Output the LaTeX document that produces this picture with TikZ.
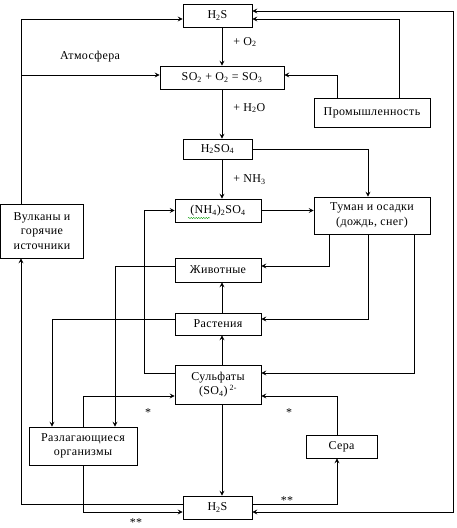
\documentclass[tikz,border=0pt]{standalone}
\usepackage{fontspec}
\setmainfont[LetterSpace=3]{Liberation Serif}
\usetikzlibrary{positioning,arrows.meta,decorations.pathmorphing}

\begin{document}
\begin{tikzpicture}[x=1pt,y=-1pt,line width=0.7pt,
    >={Stealth[length=5pt,width=5pt,inset=2pt]},
    squarenode/.style = {rectangle, draw=black, inner sep=0pt, align=center,
      font=\fontsize{12}{14.5}\selectfont},
    labelnode/.style = {inner sep=0pt, font=\fontsize{12}{14.5}\selectfont}]
     \useasboundingbox (0,0) rectangle (457,528);
     \coordinate (mid) at (222,0);

     \node[squarenode, minimum width=69pt, minimum height=23pt] (h2sup) at (217.5,15.5) {H\textsubscript{2}S};
     \node[squarenode, minimum width=124pt, minimum height=23pt] (so3) at (222,77.5) {SO\textsubscript{2} + O\textsubscript{2} = SO\textsubscript{3}};
     \node[squarenode, minimum width=116pt, minimum height=29pt] (prom) at (372,112.5) {Промышленность};
     \node[squarenode, minimum width=69pt, minimum height=20pt] (h2so4) at (217.5,149) {H\textsubscript{2}SO\textsubscript{4}};
     \node[squarenode, minimum width=86pt, minimum height=23pt] (nh4) at (218,210.5) {(NH\textsubscript{4})\textsubscript{2}SO\textsubscript{4}};
     \node[squarenode, minimum width=116pt, minimum height=37pt] (tuman) at (372,215.5) {Туман и осадки\\(дождь, снег)};
     \node[squarenode, minimum width=83pt, minimum height=54pt] (vulk) at (42,231) {Вулканы и\\горячие\\источники};
     \node[squarenode, minimum width=86pt, minimum height=24pt] (zhiv) at (218,270) {Животные};
     \node[squarenode, minimum width=86pt, minimum height=22pt] (rast) at (218,324) {Растения};
     \node[squarenode, minimum width=86pt, minimum height=39pt] (sulf) at (218,384.5) {Сульфаты\\(SO\textsubscript{4})\,\textsuperscript{2-}};
     \node[squarenode, minimum width=108pt, minimum height=38pt] (razl) at (83,446) {Разлагающиеся\\организмы};
     \node[squarenode, minimum width=71pt, minimum height=23pt] (sera) at (341.5,446.5) {Сера};
     \node[squarenode, minimum width=69pt, minimum height=23pt] (h2sdown) at (217.5,507.5) {H\textsubscript{2}S};

     \node[labelnode, anchor=west] (o2) at (233,42) {+ O\textsubscript{2}};
     \node[labelnode, anchor=west] (h2o) at (233,108) {+ H\textsubscript{2}O};
     \node[labelnode, anchor=west] (nh3) at (233,180) {+ NH\textsubscript{3}};
     \node[labelnode] (atm) at (90,57) {Атмосфера};
     \node[labelnode, anchor=north] (star1) at (148,408) {*};
     \node[labelnode, anchor=north] (star2) at (289,408) {*};
     \node[labelnode, anchor=north] (star3) at (287,496) {**};
     \node[labelnode, anchor=north] (star4) at (136,518) {**};

     \draw[green!60!black, line width=0.4pt, decorate,
       decoration={snake, amplitude=0.6pt, segment length=2.5pt}] (188,218) -- (210,218);

     \draw[->] (h2sup.south -| mid) -- (so3.north -| mid);
     \draw[->] (so3.south -| mid) -- (h2so4.north -| mid);
     \draw[->] (h2so4.south -| mid) -- (nh4.north -| mid);
     \draw[->] (nh4.east) -- (nh4.east -| tuman.west);
     \draw[->] (h2so4.east) -| ([xshift=-4pt]tuman.north);
     \draw[->] ([xshift=-43pt]tuman.south) |- ([yshift=4pt]zhiv.east);
     \draw[->] ([xshift=-4pt]tuman.south) |- ([yshift=5pt]rast.east);
     \draw[->] ([xshift=42pt]tuman.south) |- ([yshift=11.5pt]sulf.east);
     \draw[->] ([yshift=11.5pt]sulf.west) -- ++(-30pt,0) |- (nh4.west);
     \draw[->] ([yshift=5pt]rast.west) -| ([xshift=-31pt]razl.north);
     \draw[->] ([yshift=4pt]zhiv.west) -| ([xshift=32pt]razl.north);
     \draw[->] (razl.north) |- ([yshift=-11.5pt]sulf.west);
     \draw[->] ([xshift=-4.5pt]sera.north) |- ([yshift=-11.5pt]sulf.east);
     \draw[->] (rast.north -| mid) -- (zhiv.south -| mid);
     \draw[->] (sulf.north -| mid) -- (rast.south -| mid);
     \draw[->] (sulf.south -| mid) -- (h2sdown.north -| mid);
     \draw[->] ([yshift=3.5pt]h2sdown.east) -| ([xshift=-4.5pt]sera.south);
     \draw[->] (razl.south) |- ([yshift=-4.5pt]h2sdown.west);
     \draw[->] ([yshift=3.5pt]h2sdown.west) -| ([xshift=-21pt]vulk.south);
     \draw[->] ([xshift=-21pt]vulk.north) |- ([yshift=-3.5pt]h2sup.west);
     \draw[->] ([xshift=-21pt]vulk.north) |- ([yshift=2.5pt]so3.west);
     \draw[<->] ([yshift=4.5pt]h2sup.east) -- ++(201pt,0) |- ([yshift=-4.5pt]h2sdown.east);
     \draw[->] ([xshift=27pt]prom.north) |- ([yshift=-3.5pt]h2sup.east);
     \draw[->] ([xshift=-35pt]prom.north) |- ([yshift=2.5pt]so3.east);
\end{tikzpicture}
\end{document}
